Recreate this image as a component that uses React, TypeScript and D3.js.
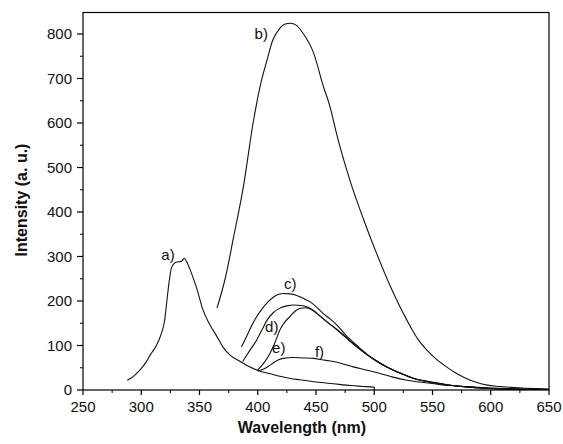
import React from "react";
import * as d3 from "d3";

const xTicks = [250, 300, 350, 400, 450, 500, 550, 600, 650];
const yTicks = [0, 100, 200, 300, 400, 500, 600, 700, 800];

const aX = [288, 293, 299, 304, 308, 313, 317, 320, 322, 324, 326, 329, 332, 335, 337, 339, 342, 348, 353, 359, 365, 370, 376, 385, 393, 402, 410, 419, 428, 436, 450, 465, 480, 490, 500, 500];
const aY = [22, 30, 45, 62, 80, 100, 125, 155, 200, 245, 275, 286, 288, 290, 296, 288, 270, 225, 180, 146, 120, 97, 79, 64, 52, 42, 37, 31, 26, 23, 18, 14, 10, 8, 6, 0];

const bX = [365, 372, 379, 388, 396, 402, 408, 413, 419, 423, 428, 433, 439, 448, 456, 462, 468, 479, 491, 502, 514, 528, 538, 545, 553, 562, 570, 579, 588, 597, 607, 617, 630, 640, 650];
const bY = [184, 250, 340, 462, 600, 682, 742, 787, 813, 822, 824, 820, 801, 757, 685, 637, 572, 472, 382, 307, 232, 157, 112, 90, 70, 52, 38, 26, 17, 11, 8, 6, 4, 3, 2];

const cX = [386, 390, 393, 398, 405, 413, 418, 422, 428, 433, 439, 445, 451, 456, 462, 468, 476, 485, 494, 503, 513, 523, 534, 545, 556, 567, 579, 595, 615, 635, 650];
const cY = [97, 118, 135, 160, 187, 208, 215, 217, 216, 213, 206, 198, 185, 172, 160, 146, 122, 100, 80, 64, 49, 37, 26, 20, 15, 10, 7, 4, 2, 1, 1];

const dX = [387, 393, 399, 404, 408, 413, 419, 425, 431, 437, 442, 448, 453, 460, 468, 476, 485, 494, 503, 513, 523, 534, 545, 556, 567, 579, 595, 615, 635, 650];
const dY = [64, 88, 112, 137, 157, 173, 184, 189, 191, 190, 187, 178, 167, 152, 136, 118, 97, 79, 63, 49, 37, 26, 19, 14, 10, 7, 4, 2, 1, 1];

const eX = [400, 405, 410, 415, 419, 423, 428, 432, 436, 441, 446, 453, 460, 468, 476, 485, 494, 503, 513, 523, 534, 545, 556, 567, 579, 595, 615, 635, 650];
const eY = [45, 60, 80, 108, 135, 152, 166, 177, 183, 185, 181, 167, 152, 135, 117, 97, 79, 63, 49, 37, 26, 19, 14, 10, 7, 4, 2, 1, 1];

const fX = [400, 404, 409, 414, 418, 422, 430, 439, 448, 455, 465, 474, 482, 493, 505, 516, 528, 538, 548, 560, 571, 584, 597, 615, 635, 650];
const fY = [43, 46, 53, 62, 68, 71, 73, 72, 71, 68, 64, 58, 52, 45, 37, 29, 22, 18, 15, 11, 9, 7, 5, 3, 2, 1];

const series = [
  { name: "a", xs: aX, ys: aY },
  { name: "b", xs: bX, ys: bY },
  { name: "c", xs: cX, ys: cY },
  { name: "d", xs: dX, ys: dY },
  { name: "e", xs: eX, ys: eY },
  { name: "f", xs: fX, ys: fY },
];

const labels = [
  { text: "a)", x: 323, y: 303 },
  { text: "b)", x: 403, y: 801 },
  { text: "c)", x: 428, y: 238 },
  { text: "d)", x: 412, y: 142 },
  { text: "e)", x: 418, y: 94 },
  { text: "f)", x: 453, y: 85 },
];

const W = 563;
const H = 444;
const left = 83, right = 549, bottom = 390, top = 12.5;
const font = "'Liberation Sans', Arial, Helvetica, sans-serif";

export default function App() {
  const x = d3.scaleLinear().domain([250, 650]).range([left, right]);
  const y = d3.scaleLinear().domain([0, 800]).range([bottom, 34]);
  const line = d3
    .line<[number, number]>()
    .x((d) => x(d[0]))
    .y((d) => y(d[1]))
    .curve(d3.curveMonotoneX);
  const minorX = d3.range(275, 650, 50);
  const minorY = d3.range(50, 850, 100);
  return (
    <svg width={W} height={H} style={{ position: "absolute", left: 0, top: 0, background: "#fff" }}>
      <rect x={0} y={0} width={W} height={H} fill="#fff" />
      {series.map((s) => (
        <path
          key={s.name}
          d={line(s.xs.map((v, i) => [v, s.ys[i]] as [number, number])) || ""}
          fill="none"
          stroke="#111"
          strokeWidth={1.1}
        />
      ))}
      <rect x={left} y={top} width={right - left} height={bottom - top} fill="none" stroke="#000" strokeWidth={1.2} />
      {xTicks.map((t) => (
        <g key={"xt" + t}>
          <line x1={x(t)} x2={x(t)} y1={bottom} y2={bottom + 5} stroke="#000" strokeWidth={1.2} />
          <text x={x(t)} y={412} textAnchor="middle" fontFamily={font} fontSize={15} fill="#111">
            {t}
          </text>
        </g>
      ))}
      {minorX.map((t) => (
        <line key={"xm" + t} x1={x(t)} x2={x(t)} y1={bottom} y2={bottom + 3} stroke="#000" strokeWidth={1} />
      ))}
      {yTicks.map((t) => (
        <g key={"yt" + t}>
          <line x1={left - 6} x2={left} y1={y(t)} y2={y(t)} stroke="#000" strokeWidth={1.2} />
          <text x={72} y={y(t) + 5} textAnchor="end" fontFamily={font} fontSize={15} fill="#111">
            {t}
          </text>
        </g>
      ))}
      {minorY.map((t) => (
        <line key={"ym" + t} x1={left - 3} x2={left} y1={y(t)} y2={y(t)} stroke="#000" strokeWidth={1} />
      ))}
      {labels.map((l) => (
        <text key={l.text} x={x(l.x)} y={y(l.y) + 5} textAnchor="middle" fontFamily={font} fontSize={15} fill="#111">
          {l.text}
        </text>
      ))}
      <text x={302} y={433} textAnchor="middle" fontFamily={font} fontSize={16} fontWeight="bold" fill="#111">
        Wavelength (nm)
      </text>
      <text
        transform={`translate(27,200) rotate(-90)`}
        textAnchor="middle"
        fontFamily={font}
        fontSize={16}
        fontWeight="bold"
        fill="#111"
      >
        Intensity (a. u.)
      </text>
    </svg>
  );
}
